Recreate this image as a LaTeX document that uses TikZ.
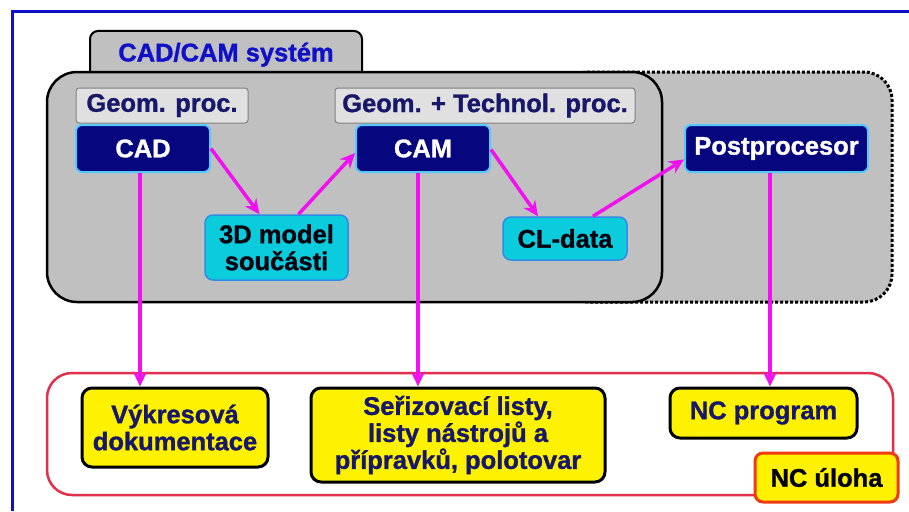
\documentclass[tikz,border=0pt]{standalone}
\usepackage{fontspec}
\setmainfont[BoldFeatures={FakeBold=1.2}]{Liberation Sans}
\usetikzlibrary{arrows.meta}

\definecolor{framblue}{HTML}{1010C8}
\definecolor{panelgray}{HTML}{C0C0C0}
\definecolor{navyfill}{HTML}{06067E}
\definecolor{navytext}{HTML}{18186A}
\definecolor{edgecyan}{HTML}{55C8FF}
\definecolor{cyanfill}{HTML}{0ACCDC}
\definecolor{cyanedge}{HTML}{2E8CE6}
\definecolor{arrowpink}{HTML}{F010F0}
\definecolor{taskred}{HTML}{E0304C}
\definecolor{tasko}{HTML}{F03A10}

\begin{document}
\begin{tikzpicture}[x=1pt,y=-1pt,font=\fontsize{25.5}{27}\selectfont\bfseries]
		\tikzstyle {label box} = [draw=gray, line width=1pt, fill=black!12, rounded corners=3pt, text=navytext, inner sep=0pt]
		\tikzstyle {proc box} = [draw=edgecyan, line width=2pt, fill=navyfill, rounded corners=6pt, text=white, inner sep=0pt]
		\tikzstyle {data box} = [draw=cyanedge, line width=1.5pt, fill=cyanfill, rounded corners=8pt, text=black!85!navytext, inner sep=0pt, align=center]
		\tikzstyle {output box} = [draw=black, line width=3pt, fill=yellow, rounded corners=10pt, text=navytext, inner sep=0pt, align=center]
		\tikzstyle {flow} = [draw=arrowpink, line width=3.5pt, -{Stealth[length=15pt,width=14pt,inset=5pt]}]

		\useasboundingbox (0,0) rectangle (909,511);
		\fill[white] (0,0) rectangle (909,511);
		\draw[framblue, line width=3pt] (12,511) -- (12,12) -- (909,12);

		% CAD/CAM system panel
		\node[draw=black, line width=2pt, fill=panelgray, rounded corners=8pt, minimum width=272pt, minimum height=50pt, text=framblue, anchor=north, inner sep=0pt] (tab) at (226,30) {\raisebox{8pt}{CAD/CAM systém}};
		\draw[dotted, line width=3pt, fill=panelgray, rounded corners=28pt] (560,72) rectangle (892,302);
		\draw[line width=2.5pt, fill=panelgray, rounded corners=30pt] (47,72) rectangle (662,302);

		\node[label box, minimum width=172pt, minimum height=35pt] (geomlbl) at (162,105.5) {Geom. proc.};
		\node[label box, minimum width=300pt, minimum height=35pt] (techlbl) at (485,105.5) {Geom. + Technol. proc.};

		\node[proc box, minimum width=134pt, minimum height=47pt] (cad) at (143,148.5) {CAD};
		\node[proc box, minimum width=134pt, minimum height=47pt] (cam) at (423,148.5) {CAM};
		\node[proc box, minimum width=183pt, minimum height=47pt] (post) at (776.5,148.5) {Postprocesor};

		\node[data box, minimum width=143pt, minimum height=65pt] (model) at (276.5,247.5) {3D model\\součásti};
		\node[data box, minimum width=124pt, minimum height=43pt] (cldata) at (565,238.5) {CL-data};

		% NC task
		\draw[taskred, line width=2.5pt, rounded corners=25pt] (47,373) rectangle (893,495);

		\node[output box, minimum width=186pt, minimum height=79pt] (drawings) at (175,427.5) {Výkresová\\dokumentace};
		\node[output box, minimum width=294pt, minimum height=94pt] (sheets) at (458,435) {Seřizovací listy,\\listy nástrojů a\\přípravků, polotovar};
		\node[output box, minimum width=187pt, minimum height=50pt] (ncprog) at (763.5,413) {NC program};
		\node[draw=tasko, line width=3pt, fill=yellow, rounded corners=8pt, minimum width=143pt, minimum height=49pt, inner sep=0pt] (nctask) at (826.5,477.5) {NC úloha};

		% flow
		\draw[flow] (cad.east) -- ([xshift=-17pt]model.north);
		\draw[flow] ([xshift=22pt]model.north) -- ([yshift=-4.5pt]cam.west);
		\draw[flow] ([yshift=-1pt]cam.east) -- ([xshift=-27pt]cldata.north);
		\draw[flow] ([xshift=28pt]cldata.north) -- ([yshift=-11pt]post.west);

		\draw[flow] ([xshift=-3pt]cad.south) -- ([xshift=-3pt]cad.south |- drawings.north);
		\draw[flow] ([xshift=-5pt]cam.south) -- ([xshift=-5pt]cam.south |- sheets.north);
		\draw[flow] ([xshift=-6.5pt]post.south) -- ([xshift=-6.5pt]post.south |- ncprog.north);
	\end{tikzpicture}
\end{document}
